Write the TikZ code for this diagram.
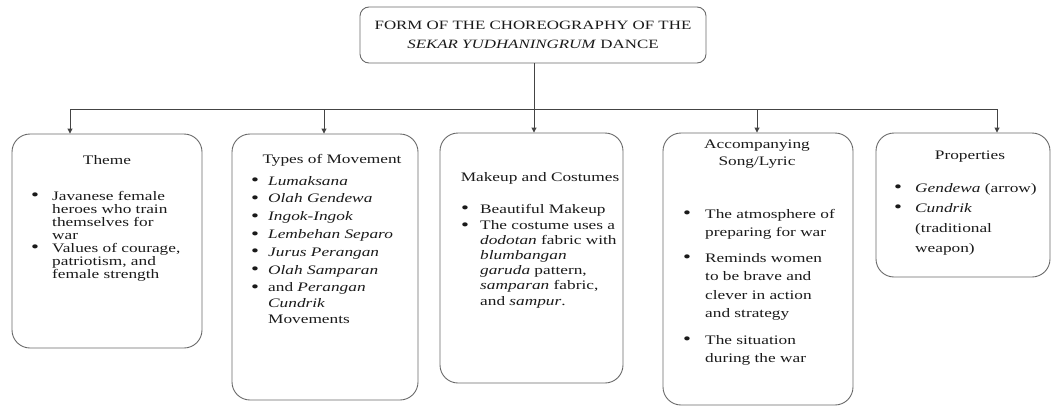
\documentclass[tikz,border=0pt]{standalone}
\usepackage{fontspec}
\setmainfont{Liberation Serif}[FakeStretch=1.33]
\usetikzlibrary{arrows.meta}

\definecolor{ink}{HTML}{1A1A1A}
\definecolor{frame}{HTML}{6A6A6A}
\definecolor{wire}{HTML}{444444}

% a round bullet, a little larger than the text bullet
\newcommand\bul{\raisebox{-0.6pt}{\fontsize{17pt}{17pt}\selectfont\textbullet}}
% bulleted list: #1 line skip, #2 indent of the text after the bullet, #3 rows
\newcommand\blist[3]{{\fontsize{13pt}{#1}\selectfont\renewcommand\arraystretch{1}%
  \begin{tabular}[t]{@{}p{#2}@{}l@{}}#3\end{tabular}}}

\tikzset{
  topbox/.style={draw=frame, line width=0.9pt, rounded corners=9pt, fill=white,
    minimum width=346pt, minimum height=56pt, inner sep=0pt, align=center,
    text=ink, font=\fontsize{12.7pt}{18.5pt}\selectfont},
  catbox/.style={draw=frame, line width=0.9pt, rounded corners=18pt, fill=white,
    inner sep=0pt},
  ttl/.style={anchor=base, inner sep=0pt, text=ink, align=center,
    font=\fontsize{13pt}{17pt}\selectfont},
  body/.style={anchor=base west, inner sep=0pt, text=ink},
  link/.style={draw=wire, line width=0.9pt},
  tip/.style={link, -{Triangle[length=5pt,width=5pt]}},
}

\begin{document}
\begin{tikzpicture}[x=1pt,y=-1pt]
\useasboundingbox (0,0) rectangle (1054,407);

% ---- boxes ----
\node[topbox] (top) at (533,35) {FORM OF THE CHOREOGRAPHY OF THE\\\textit{SEKAR YUDHANINGRUM} DANCE};
\node[catbox, minimum width=190pt, minimum height=214pt] (theme) at (107,241) {};
\node[catbox, minimum width=186pt, minimum height=266pt] (moves) at (325,267) {};
\node[catbox, minimum width=183pt, minimum height=250pt] (makeup) at (531.5,258) {};
\node[catbox, minimum width=190pt, minimum height=272pt] (song) at (758,269) {};
\node[catbox, minimum width=174pt, minimum height=144pt] (props) at (963,205) {};

% ---- connectors ----
\coordinate (ax1) at (70,109);
\coordinate (ax2) at (324,109);
\coordinate (ax3) at (534,109);
\coordinate (ax4) at (757,109);
\coordinate (ax5) at (997,109);
\draw[link] (top.south -| ax3) -- (ax3);
\draw[link] (ax1) -- (ax5);
\draw[tip] (ax1) -- (ax1 |- theme.north);
\draw[tip] (ax2) -- (ax2 |- moves.north);
\draw[tip] (ax3) -- (ax3 |- makeup.north);
\draw[tip] (ax4) -- (ax4 |- song.north);
\draw[tip] (ax5) -- (ax5 |- props.north);

% ---- Theme ----
\node[ttl] (themeT) at (107,164) {Theme};
\node[body] (themeB) at (31,200) {\blist{13pt}{21pt}{%
  \bul & Javanese female\\ & heroes who train\\ & themselves for\\ & war\\
  \bul & Values of courage,\\ & patriotism, and\\ & female strength}};

% ---- Types of Movement ----
\node[ttl] (movesT) at (332,163) {Types of Movement};
\node[body] (movesB) at (251,185) {\blist{15.7pt}{17pt}{%
  \bul & \textit{Lumaksana}\\[2.1pt]
  \bul & \textit{Olah Gendewa}\\[2.1pt]
  \bul & \textit{Ingok-Ingok}\\[2.1pt]
  \bul & \textit{Lembehan Separo}\\[2.1pt]
  \bul & \textit{Jurus Perangan}\\[2.1pt]
  \bul & \textit{Olah Samparan}\\[2.1pt]
  \bul & and \textit{Perangan}\\ & \textit{Cundrik}\\ & Movements}};

% ---- Makeup and Costumes ----
\node[ttl] (makeupT) at (540,181.5) {Makeup and Costumes};
\node[body] (makeupB) at (461,213) {\blist{15.1pt}{19pt}{%
  \bul & Beautiful Makeup\\[1.4pt]
  \bul & The costume uses a\\ & \textit{dodotan} fabric with\\ & \textit{blumbangan}\\
       & \textit{garuda} pattern,\\ & \textit{samparan} fabric,\\ & and \textit{sampur}.}};

% ---- Accompanying Song/Lyric ----
\node[ttl] (songT) at (757,165) {Accompanying\\Song/Lyric};
\node[body] (songB) at (683,218) {\blist{18.5pt}{22pt}{%
  \bul & The atmosphere of\\ & preparing for war\\[7pt]
  \bul & Reminds women\\ & to be brave and\\ & clever in action\\ & and strategy\\[8pt]
  \bul & The situation\\ & during the war}};

% ---- Properties ----
\node[ttl] (propsT) at (970,159) {Properties};
\node[body] (propsB) at (894,192) {\blist{20pt}{21pt}{%
  \bul & \textit{Gendewa} (arrow)\\
  \bul & \textit{Cundrik}\\ & (traditional\\ & weapon)}};
\end{tikzpicture}
\end{document}
